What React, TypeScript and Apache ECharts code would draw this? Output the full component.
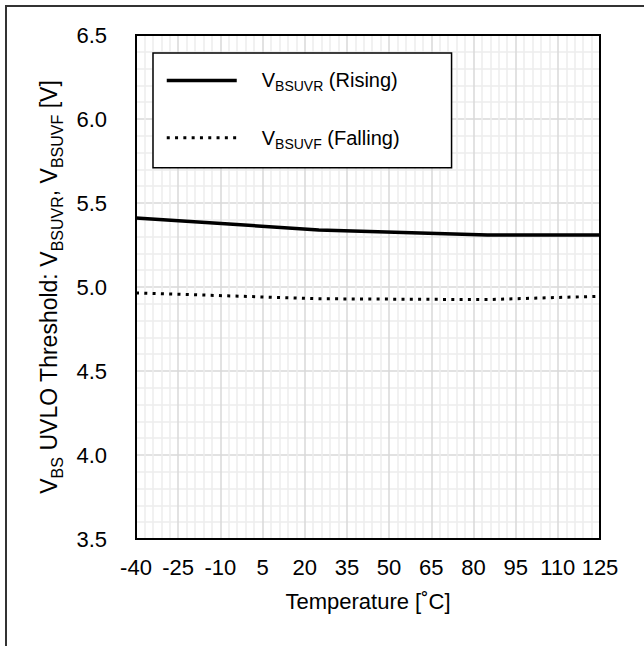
import React, { useEffect, useRef } from 'react';
import * as echarts from 'echarts';

const temperatures = [-40, 25, 85, 125];
const risingV = [5.41, 5.34, 5.31, 5.31];
const fallingV = [4.965, 4.93, 4.925, 4.945];
const xMin = -40;
const xMax = 125;
const xStep = 15;
const yMin = 3.5;
const yMax = 6.5;
const yStep = 0.5;
const risingName = 'rise';
const fallingName = 'fall';
const legendLabels: Record<string, string> = {
  rise: '{m|V}{s|BSUVR}{m| (Rising)}',
  fall: '{m|V}{s|BSUVF}{m| (Falling)}',
};
const yTitle = '{m|V}{s|BS}{m| UVLO Threshold: V}{s|BSUVR}{m|, V}{s|BSUVF}{m| [V]}';
const xTitle = 'Temperature [˚C]';

const FONT = "'Liberation Sans', Arial, sans-serif";

export default function App() {
  const ref = useRef<HTMLDivElement>(null);
  useEffect(() => {
    if (!ref.current) return;
    const chart = echarts.init(ref.current, undefined, { renderer: 'svg' });
    const rich = {
      m: { fontSize: 23, lineHeight: 34, fontFamily: FONT, color: '#000' },
      s: { fontSize: 16, lineHeight: 16, verticalAlign: 'bottom', fontFamily: FONT, color: '#000' },
    };
    const legendRich = {
      m: { fontSize: 20, lineHeight: 26, fontFamily: FONT, color: '#000' },
      s: { fontSize: 14, lineHeight: 14, verticalAlign: 'bottom', fontFamily: FONT, color: '#000' },
      p: { padding: [0, 0, 0, 20] },
    };
    chart.setOption({
      animation: false,
      backgroundColor: '#fff',
      graphic: [
        {
          type: 'polyline',
          z: 100,
          shape: { points: [[6, 700], [6, 6], [700, 6]] },
          style: { fill: null, stroke: '#333', lineWidth: 2 },
        },
      ],
      grid: {
        left: 136,
        top: 35,
        width: 464,
        height: 504,
        show: true,
        borderColor: '#000',
        borderWidth: 2,
        backgroundColor: 'transparent',
        z: 3,
      },
      legend: {
        orient: 'vertical',
        left: 153,
        top: 53,
        padding: [17, 52, 17, 12],
        itemWidth: 70,
        itemHeight: 26,
        itemGap: 34,
        backgroundColor: '#fff',
        borderColor: '#000',
        borderWidth: 1.5,
        selectedMode: false,
        data: [risingName, fallingName],
        lineStyle: { width: 'inherit', type: 'inherit' },
        itemStyle: { color: 'rgba(0,0,0,0)', borderWidth: 0, opacity: 0 },
        formatter: (name: string) => '{p|}' + legendLabels[name],
        textStyle: { fontSize: 20, fontFamily: FONT, color: '#000', rich: legendRich },
      },
      xAxis: {
        type: 'value',
        min: xMin,
        max: xMax,
        interval: xStep,
        name: xTitle,
        nameLocation: 'middle',
        nameGap: 50,
        nameTextStyle: { fontSize: 22, lineHeight: 24, fontFamily: FONT, color: '#000' },
        axisLine: { show: true, onZero: false, lineStyle: { color: '#000', width: 2 } },
        axisTick: { show: false },
        axisLabel: { margin: 17, fontSize: 22, fontFamily: FONT, color: '#000' },
        splitLine: { show: true, lineStyle: { color: '#d9d9d9', width: 1.5 } },
        minorTick: { show: false, splitNumber: 5 },
        minorSplitLine: { show: true, lineStyle: { color: '#ececec', width: 1.5 } },
      },
      yAxis: {
        type: 'value',
        min: yMin,
        max: yMax,
        interval: yStep,
        name: yTitle,
        nameLocation: 'middle',
        nameGap: 66,
        nameTextStyle: { fontSize: 23, fontFamily: FONT, color: '#000', rich },
        axisLine: { show: true, onZero: false, lineStyle: { color: '#000', width: 2 } },
        axisTick: { show: false },
        axisLabel: {
          margin: 29,
          fontSize: 22,
          fontFamily: FONT,
          color: '#000',
          formatter: (v: number) => v.toFixed(1),
        },
        splitLine: { show: true, lineStyle: { color: '#d9d9d9', width: 1.5 } },
        minorTick: { show: false, splitNumber: 5 },
        minorSplitLine: { show: true, lineStyle: { color: '#ececec', width: 1.5 } },
      },
      series: [
        {
          name: risingName,
          type: 'line',
          symbol: 'none',
          z: 5,
          data: temperatures.map((t, i) => [t, risingV[i]]),
          lineStyle: { color: '#000', width: 3.5, type: 'solid' },
          itemStyle: { color: '#000' },
        },
        {
          name: fallingName,
          type: 'line',
          symbol: 'none',
          z: 5,
          data: temperatures.map((t, i) => [t, fallingV[i]]),
          lineStyle: { color: '#000', width: 3, type: [3, 5.3] },
          itemStyle: { color: '#000' },
        },
      ],
    });
    return () => chart.dispose();
  }, []);
  return (
    <div
      ref={ref}
      style={{ position: 'absolute', left: 0, top: 0, width: 644, height: 646 }}
    />
  );
}
